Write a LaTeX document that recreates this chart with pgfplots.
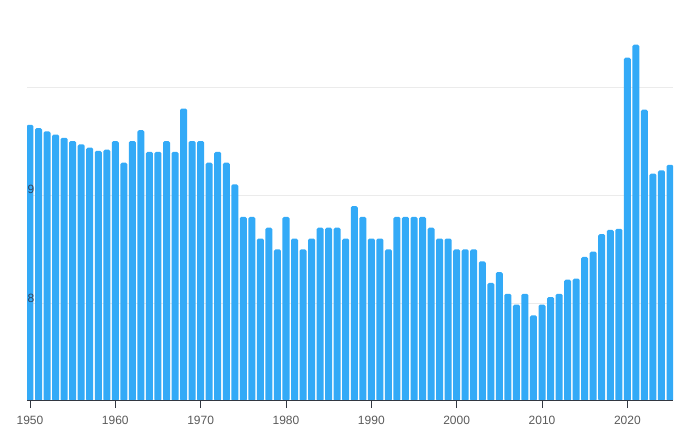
\documentclass[border=0pt]{standalone}
\usepackage{fontspec}
\setmainfont{Liberation Sans}
\usepackage{pgfplots}
\pgfplotsset{compat=1.18}
\definecolor{barblue}{RGB}{51,170,247}
\definecolor{labelgray}{RGB}{90,90,90}
\definecolor{ylabcol}{RGB}{45,70,100}
\definecolor{axiscol}{RGB}{50,55,65}
\pgfplotsset{
  layers/labelsontop/.define layer set={
    axis background, axis grid, main, axis ticks, axis lines,
    axis tick labels, axis descriptions, axis foreground
  }{/pgfplots/layers/standard},
}
\pgfplotstableread{
year value
1950 9.65
1951 9.62
1952 9.59
1953 9.56
1954 9.53
1955 9.50
1956 9.47
1957 9.44
1958 9.41
1959 9.42
1960 9.50
1961 9.30
1962 9.50
1963 9.60
1964 9.40
1965 9.40
1966 9.50
1967 9.40
1968 9.80
1969 9.50
1970 9.50
1971 9.30
1972 9.40
1973 9.30
1974 9.10
1975 8.80
1976 8.80
1977 8.60
1978 8.70
1979 8.50
1980 8.80
1981 8.60
1982 8.50
1983 8.60
1984 8.70
1985 8.70
1986 8.70
1987 8.60
1988 8.90
1989 8.80
1990 8.60
1991 8.60
1992 8.50
1993 8.80
1994 8.80
1995 8.80
1996 8.80
1997 8.70
1998 8.60
1999 8.60
2000 8.50
2001 8.50
2002 8.50
2003 8.39
2004 8.19
2005 8.29
2006 8.09
2007 7.99
2008 8.09
2009 7.89
2010 7.99
2011 8.06
2012 8.09
2013 8.22
2014 8.23
2015 8.43
2016 8.48
2017 8.64
2018 8.68
2019 8.69
2020 10.27
2021 10.39
2022 9.79
2023 9.20
2024 9.23
2025 9.28
}\datatable
\begin{document}
\begin{tikzpicture}
\begin{axis}[
  set layers=labelsontop,
  at={(0pt,0pt)}, anchor=south west,
  scale only axis, width=646pt, height=362.8pt,
  xmin=1949.65, xmax=2025.35, ymin=7.1, ymax=10.45,
  axis x line*=bottom, axis y line*=left,
  y axis line style={draw=none},
  x axis line style={draw=axiscol, line width=1pt, -},
  ybar, bar width=7pt,
  xtick={1950,1960,...,2020},
  tick align=outside,
  xtick style={draw=axiscol, line width=0.8pt},
  major tick length=7pt,
  ytick={8,9,10}, yticklabels={8,9,{}},
  ytick style={draw=none},
  ymajorgrids, grid style={draw=black!8, line width=0.8pt},
  /pgf/number format/assume math mode=true,
  /pgf/number format/set thousands separator={},
  xticklabel style={font=\fontsize{12}{14}\selectfont, text=labelgray, yshift=-3pt},
  yticklabel style={font=\fontsize{12}{14}\selectfont, text=ylabcol, anchor=base west, xshift=4pt, yshift=1.5pt},
  yticklabel pos=left,
  typeset ticklabels with strut=false,
]
\addplot[fill=barblue, draw=none, rounded corners=1.5pt] table[x=year, y=value] {\datatable};
\end{axis}
\path[use as bounding box] (-27pt,-37pt) rectangle (673pt,401pt);
\end{tikzpicture}
\end{document}
